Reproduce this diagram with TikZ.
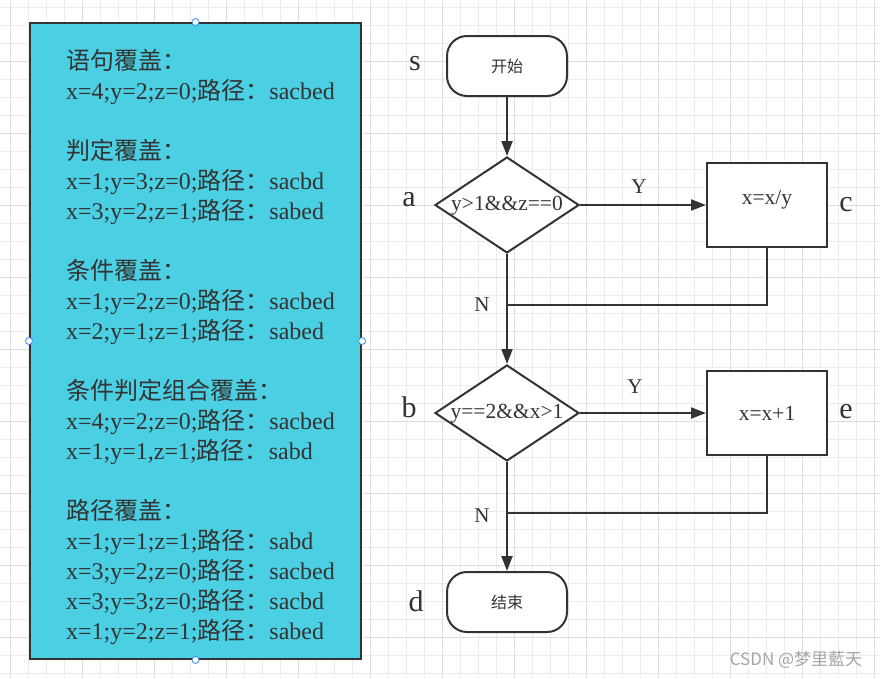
\documentclass[tikz,border=0pt]{standalone}
\usepackage{fontspec}
\setmainfont{Liberation Serif}
\newfontfamily\cjk{Noto Sans CJK SC}
\usetikzlibrary{shapes.geometric,arrows.meta}

\definecolor{linegray}{HTML}{333333}
\definecolor{boxcyan}{HTML}{4BCFE2}
\definecolor{gridminor}{HTML}{EBEBEB}
\definecolor{gridmajor}{HTML}{DCDCDC}
\definecolor{handleblue}{HTML}{3D8AF7}

\tikzset{
  line/.style={draw=linegray,line width=2pt},
  arr/.style={line,-{Triangle[length=15pt,width=11pt]}},
  terminal/.style={line,rounded corners=20pt,minimum width=120pt,minimum height=60pt,fill=white},
  decision/.style={line,diamond,minimum width=144pt,minimum height=96pt,inner sep=0pt,fill=white},
  process/.style={line,rectangle,minimum width=120pt,minimum height=84pt,fill=white},
  cjktext/.style={text=linegray,font=\cjk\fontsize{16}{18}\selectfont},
  cond/.style={text=linegray,font=\fontsize{21.5}{24}\selectfont},
  tag/.style={text=linegray,font=\fontsize{30}{32}\selectfont},
  yn/.style={text=linegray,font=\fontsize{21}{24}\selectfont},
  handle/.style={circle,draw=handleblue,fill=white,line width=0.8pt,minimum size=7pt,inner sep=0pt},
}

\begin{document}
\begin{tikzpicture}[x=1pt,y=-1pt]
\useasboundingbox (0,0) rectangle (880,678);
\fill[white] (0,0) rectangle (880,678);
% grid
\foreach \x in {10,28,...,880} \draw[gridminor,line width=1pt] (\x,0) -- (\x,678);
\foreach \y in {7,25,...,678} \draw[gridminor,line width=1pt] (0,\y) -- (880,\y);
\foreach \x in {10,82,...,880} \draw[gridmajor,line width=1pt] (\x,0) -- (\x,678);
\foreach \y in {61,133,...,678} \draw[gridmajor,line width=1pt] (0,\y) -- (880,\y);

% coverage box
\node[line,fill=boxcyan,minimum width=331pt,minimum height=636pt,inner sep=0pt] (box) at (195.5,341) {};
\node[anchor=west,align=left,text=linegray,font=\fontsize{24}{30}\selectfont,inner sep=0pt] (cases) at (66,347) {
{\cjk 语句覆盖：}\\
x=4;y=2;z=0;{\cjk 路径：}sacbed\\[30pt]
{\cjk 判定覆盖：}\\
x=1;y=3;z=0;{\cjk 路径：}sacbd\\
x=3;y=2;z=1;{\cjk 路径：}sabed\\[30pt]
{\cjk 条件覆盖：}\\
x=1;y=2;z=0;{\cjk 路径：}sacbed\\
x=2;y=1;z=1;{\cjk 路径：}sabed\\[30pt]
{\cjk 条件判定组合覆盖：}\\
x=4;y=2;z=0;{\cjk 路径：}sacbed\\
x=1;y=1,z=1;{\cjk 路径：}sabd\\[30pt]
{\cjk 路径覆盖：}\\
x=1;y=1;z=1;{\cjk 路径：}sabd\\
x=3;y=2;z=0;{\cjk 路径：}sacbed\\
x=3;y=3;z=0;{\cjk 路径：}sacbd\\
x=1;y=2;z=1;{\cjk 路径：}sabed};
\node[handle] (h1) at (box.north) {};
\node[handle] (h2) at (box.south) {};
\node[handle] (h3) at (box.west) {};
\node[handle] (h4) at (box.east) {};

% flowchart
\node[terminal,cjktext] (s) at (507,66) {开始};
\node[decision] (a) at (507,205) {};
\node[cond] (atext) at (507,206) {y>1\&\&z==0};
\node[process] (c) at (767,205) {};
\node[cond] (ctext) at (767,200) {x=x/y};
\node[decision] (b) at (507,413) {};
\node[cond] (btext) at (507,414) {y==2\&\&x>1};
\node[process,cond] (e) at (767,413) {x=x+1};
\node[terminal,cjktext] (d) at (507,602) {结束};
\coordinate (j1) at (507,305);
\coordinate (j2) at (507,513);

\node[tag] (ls) at (415,64) {s};
\node[tag] (la) at (409,200) {a};
\node[tag] (lc) at (846,205) {c};
\node[tag] (lb) at (409,407) {b};
\node[tag] (le) at (846,412) {e};
\node[tag] (ld) at (416,601) {d};

\draw[arr] (s) -- (a);
\draw[arr] (a) -- (c);
\draw[arr] (a) -- (b);
\draw[line] (c.south) |- (j1);
\draw[arr] (b) -- (e);
\draw[arr] (b) -- (d);
\draw[line] (e.south) |- (j2);
\node[yn] (y1) at (639,187) {Y};
\node[yn] (y2) at (635,387) {Y};
\node[yn] (n1) at (482,305) {N};
\node[yn] (n2) at (482,516) {N};

\node[text=black!35,font=\cjk\fontsize{17}{20}\selectfont] (mark) at (796,660) {CSDN @梦里藍天};
\end{tikzpicture}
\end{document}
